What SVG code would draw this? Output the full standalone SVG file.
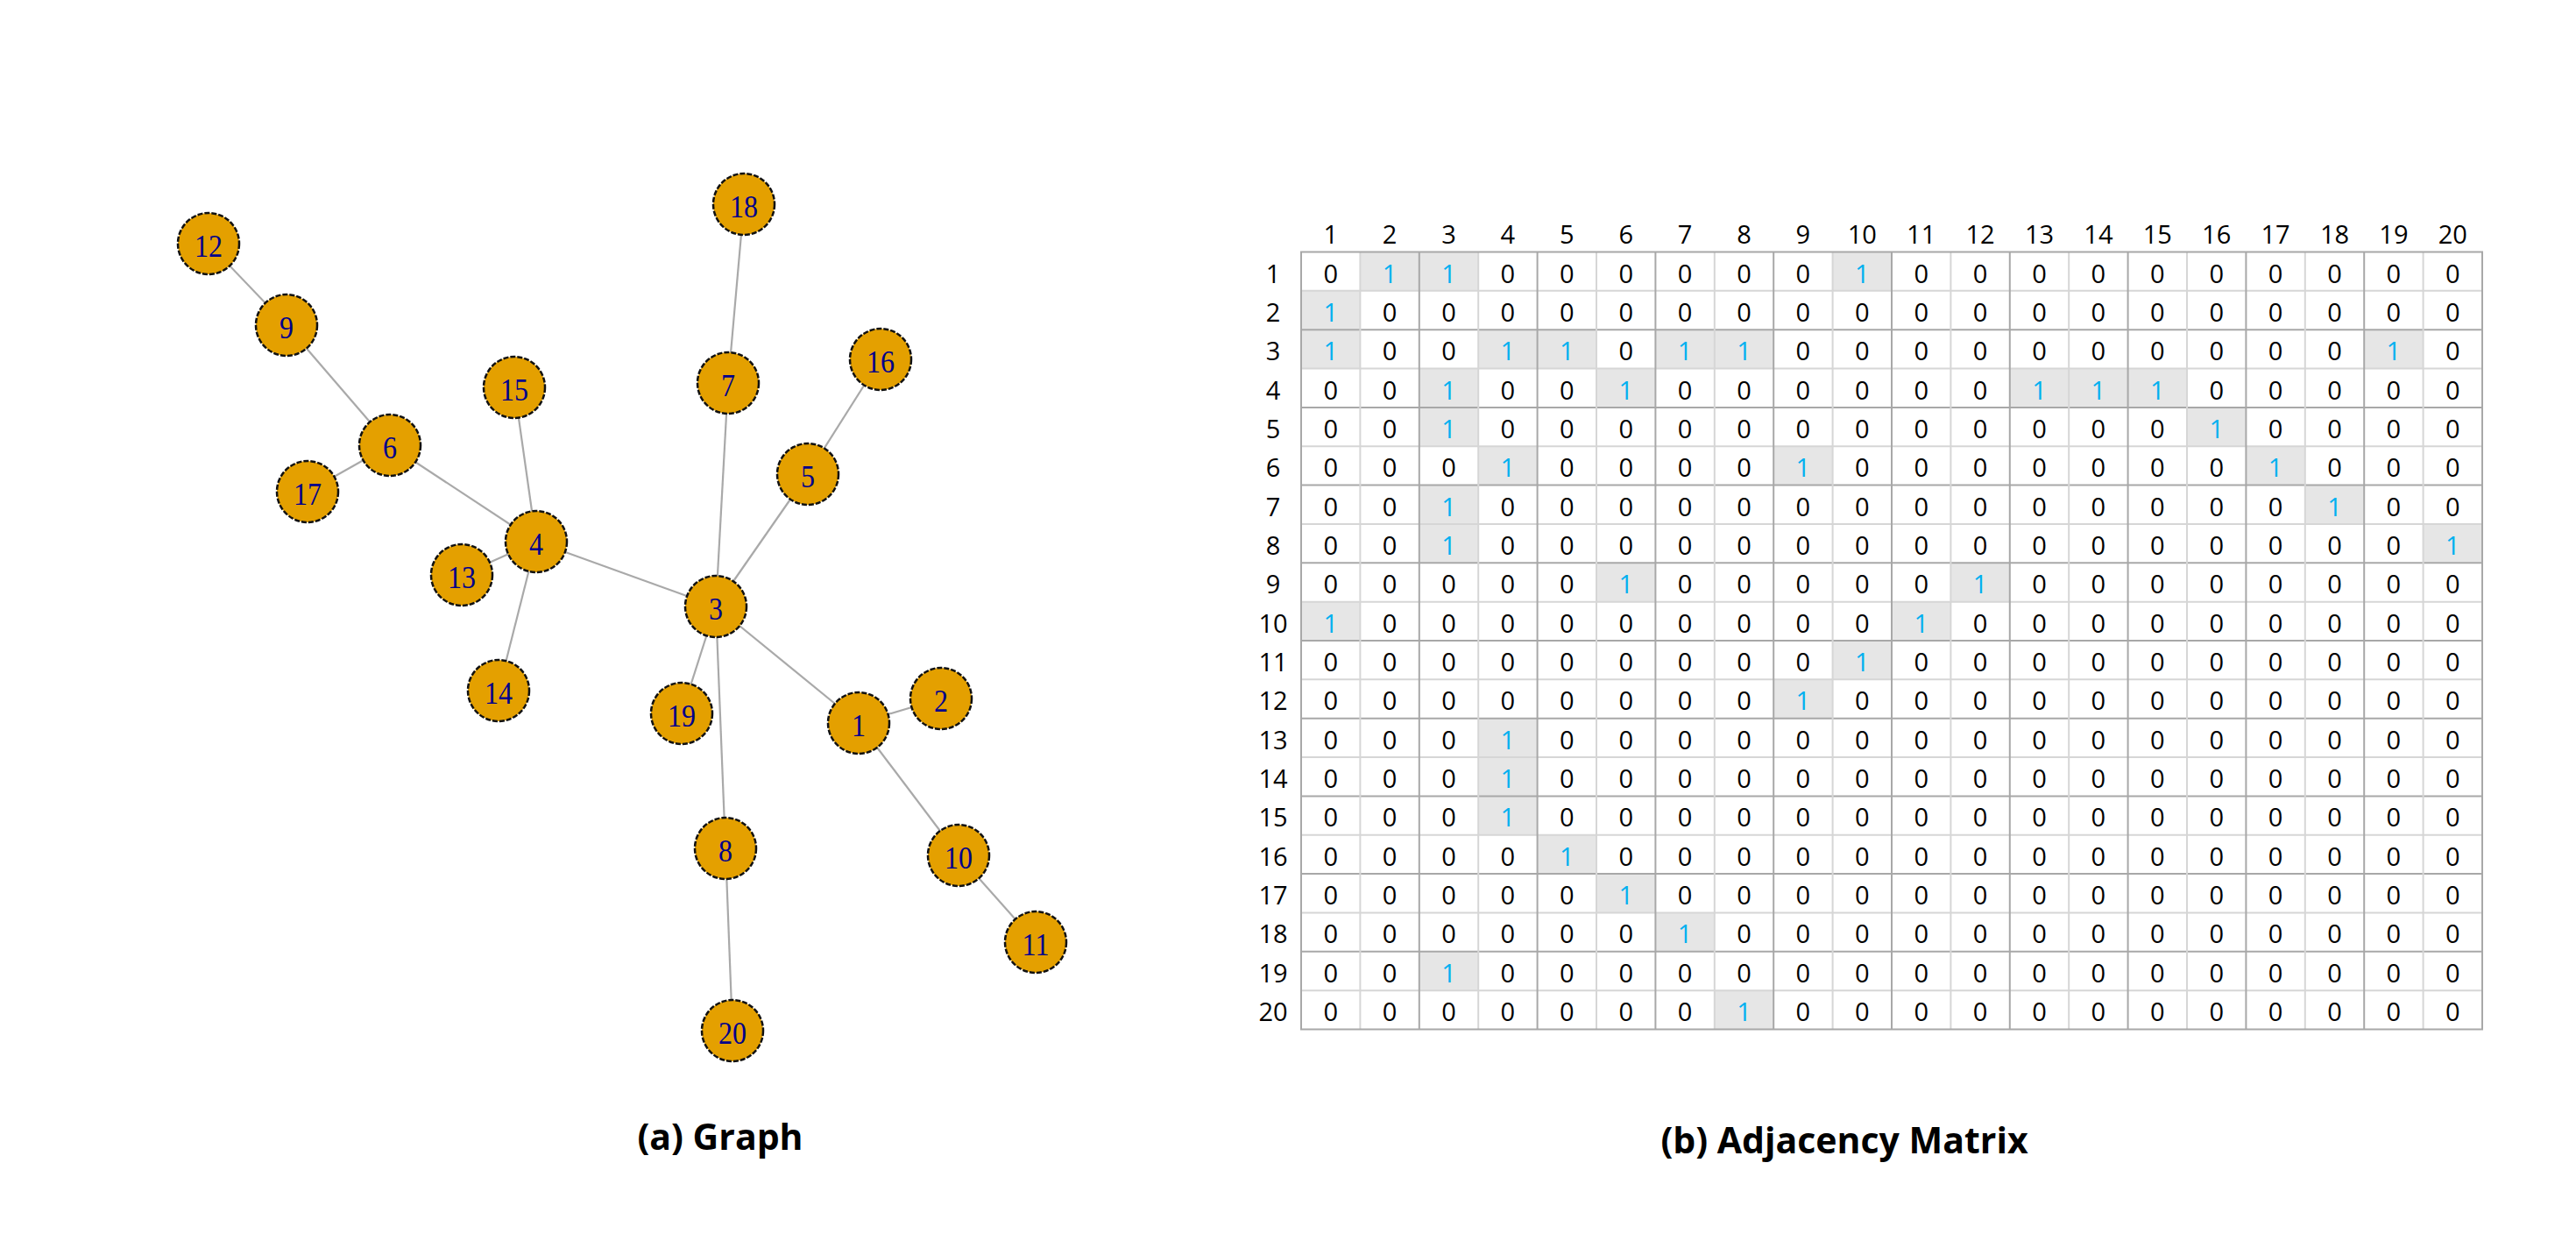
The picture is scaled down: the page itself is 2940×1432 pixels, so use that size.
<svg xmlns="http://www.w3.org/2000/svg" width="2940" height="1432" viewBox="0 0 2940 1432">
<style>
.edge{stroke:#a9a9a9;stroke-width:2.2;fill:none}
.nd circle{fill:#e4a000;stroke:#111;stroke-width:2.5;stroke-dasharray:6 2}
.nd text{font-family:"Liberation Serif","Times New Roman",serif;font-size:32px;fill:#00008b;text-anchor:middle}
.m text{font-family:"Open Sans","Noto Sans",sans-serif;font-size:29px;fill:#000;text-anchor:middle}
.m text.o{fill:#00b0f0}
.sh rect{fill:#e6e6e6}
.gl{stroke:#d6d6d6;stroke-width:2}
.gd{stroke:#a8a8a8;stroke-width:2}
.frame{fill:none;stroke:#a8a8a8;stroke-width:2}
.cap{font-family:"Open Sans","Noto Sans",sans-serif;font-weight:bold;font-size:41px;fill:#000;text-anchor:middle}
</style>
<rect width="2940" height="1432" fill="#fff"/>
<g id="connectors">
<line class="edge" x1="980" y1="825" x2="1074" y2="797"/>
<line class="edge" x1="980" y1="825" x2="817" y2="692"/>
<line class="edge" x1="980" y1="825" x2="1094" y2="976"/>
<line class="edge" x1="817" y1="692" x2="612" y2="618"/>
<line class="edge" x1="817" y1="692" x2="922" y2="541"/>
<line class="edge" x1="817" y1="692" x2="831" y2="437"/>
<line class="edge" x1="817" y1="692" x2="828" y2="968"/>
<line class="edge" x1="817" y1="692" x2="778" y2="814"/>
<line class="edge" x1="612" y1="618" x2="445" y2="508"/>
<line class="edge" x1="612" y1="618" x2="527" y2="656"/>
<line class="edge" x1="612" y1="618" x2="569" y2="788"/>
<line class="edge" x1="612" y1="618" x2="587" y2="442"/>
<line class="edge" x1="922" y1="541" x2="1005" y2="410"/>
<line class="edge" x1="445" y1="508" x2="327" y2="371"/>
<line class="edge" x1="445" y1="508" x2="351" y2="561"/>
<line class="edge" x1="831" y1="437" x2="849" y2="233"/>
<line class="edge" x1="828" y1="968" x2="836" y2="1176"/>
<line class="edge" x1="327" y1="371" x2="238" y2="278"/>
<line class="edge" x1="1094" y1="976" x2="1182" y2="1075"/>
</g>
<g id="node1" class="nd" transform="translate(980,825)"><circle r="35"/><text y="13.4" transform="scale(1,1.12)">1</text></g>
<g id="node2" class="nd" transform="translate(1074,797)"><circle r="35"/><text y="13.4" transform="scale(1,1.12)">2</text></g>
<g id="node3" class="nd" transform="translate(817,692)"><circle r="35"/><text y="13.4" transform="scale(1,1.12)">3</text></g>
<g id="node4" class="nd" transform="translate(612,618)"><circle r="35"/><text y="13.4" transform="scale(1,1.12)">4</text></g>
<g id="node5" class="nd" transform="translate(922,541)"><circle r="35"/><text y="13.4" transform="scale(1,1.12)">5</text></g>
<g id="node6" class="nd" transform="translate(445,508)"><circle r="35"/><text y="13.4" transform="scale(1,1.12)">6</text></g>
<g id="node7" class="nd" transform="translate(831,437)"><circle r="35"/><text y="13.4" transform="scale(1,1.12)">7</text></g>
<g id="node8" class="nd" transform="translate(828,968)"><circle r="35"/><text y="13.4" transform="scale(1,1.12)">8</text></g>
<g id="node9" class="nd" transform="translate(327,371)"><circle r="35"/><text y="13.4" transform="scale(1,1.12)">9</text></g>
<g id="node10" class="nd" transform="translate(1094,976)"><circle r="35"/><text y="13.4" transform="scale(1,1.12)">10</text></g>
<g id="node11" class="nd" transform="translate(1182,1075)"><circle r="35"/><text y="13.4" transform="scale(1,1.12)">11</text></g>
<g id="node12" class="nd" transform="translate(238,278)"><circle r="35"/><text y="13.4" transform="scale(1,1.12)">12</text></g>
<g id="node13" class="nd" transform="translate(527,656)"><circle r="35"/><text y="13.4" transform="scale(1,1.12)">13</text></g>
<g id="node14" class="nd" transform="translate(569,788)"><circle r="35"/><text y="13.4" transform="scale(1,1.12)">14</text></g>
<g id="node15" class="nd" transform="translate(587,442)"><circle r="35"/><text y="13.4" transform="scale(1,1.12)">15</text></g>
<g id="node16" class="nd" transform="translate(1005,410)"><circle r="35"/><text y="13.4" transform="scale(1,1.12)">16</text></g>
<g id="node17" class="nd" transform="translate(351,561)"><circle r="35"/><text y="13.4" transform="scale(1,1.12)">17</text></g>
<g id="node18" class="nd" transform="translate(849,233)"><circle r="35"/><text y="13.4" transform="scale(1,1.12)">18</text></g>
<g id="node19" class="nd" transform="translate(778,814)"><circle r="35"/><text y="13.4" transform="scale(1,1.12)">19</text></g>
<g id="node20" class="nd" transform="translate(836,1176)"><circle r="35"/><text y="13.4" transform="scale(1,1.12)">20</text></g>
<text class="cap" x="822" y="1312">(a) Graph</text>

<g id="matrix" class="m">
<g id="header" transform="translate(0,278)">
<text x="1518.7">1</text><text x="1586.1">2</text><text x="1653.5">3</text><text x="1720.9">4</text><text x="1788.3">5</text><text x="1855.7">6</text><text x="1923.1">7</text><text x="1990.5">8</text><text x="2057.9">9</text><text x="2125.3">10</text><text x="2192.7">11</text><text x="2260.1">12</text><text x="2327.5">13</text><text x="2394.9">14</text><text x="2462.3">15</text><text x="2529.7">16</text><text x="2597.1">17</text><text x="2664.5">18</text><text x="2731.9">19</text><text x="2799.3">20</text>
</g>
<g id="shading" class="sh">
<rect x="1552.4" y="287.5" width="67.4" height="44.35"/><rect x="1619.8" y="287.5" width="67.4" height="44.35"/><rect x="2091.6" y="287.5" width="67.4" height="44.35"/>
<rect x="1485" y="331.85" width="67.4" height="44.35"/>
<rect x="1485" y="376.2" width="67.4" height="44.35"/><rect x="1687.2" y="376.2" width="67.4" height="44.35"/><rect x="1754.6" y="376.2" width="67.4" height="44.35"/><rect x="1889.4" y="376.2" width="67.4" height="44.35"/><rect x="1956.8" y="376.2" width="67.4" height="44.35"/><rect x="2698.2" y="376.2" width="67.4" height="44.35"/>
<rect x="1619.8" y="420.55" width="67.4" height="44.35"/><rect x="1822" y="420.55" width="67.4" height="44.35"/><rect x="2293.8" y="420.55" width="67.4" height="44.35"/><rect x="2361.2" y="420.55" width="67.4" height="44.35"/><rect x="2428.6" y="420.55" width="67.4" height="44.35"/>
<rect x="1619.8" y="464.9" width="67.4" height="44.35"/><rect x="2496" y="464.9" width="67.4" height="44.35"/>
<rect x="1687.2" y="509.25" width="67.4" height="44.35"/><rect x="2024.2" y="509.25" width="67.4" height="44.35"/><rect x="2563.4" y="509.25" width="67.4" height="44.35"/>
<rect x="1619.8" y="553.6" width="67.4" height="44.35"/><rect x="2630.8" y="553.6" width="67.4" height="44.35"/>
<rect x="1619.8" y="597.95" width="67.4" height="44.35"/><rect x="2765.6" y="597.95" width="67.4" height="44.35"/>
<rect x="1822" y="642.3" width="67.4" height="44.35"/><rect x="2226.4" y="642.3" width="67.4" height="44.35"/>
<rect x="1485" y="686.65" width="67.4" height="44.35"/><rect x="2159" y="686.65" width="67.4" height="44.35"/>
<rect x="2091.6" y="731" width="67.4" height="44.35"/>
<rect x="2024.2" y="775.35" width="67.4" height="44.35"/>
<rect x="1687.2" y="819.7" width="67.4" height="44.35"/>
<rect x="1687.2" y="864.05" width="67.4" height="44.35"/>
<rect x="1687.2" y="908.4" width="67.4" height="44.35"/>
<rect x="1754.6" y="952.75" width="67.4" height="44.35"/>
<rect x="1822" y="997.1" width="67.4" height="44.35"/>
<rect x="1889.4" y="1041.45" width="67.4" height="44.35"/>
<rect x="1619.8" y="1085.8" width="67.4" height="44.35"/>
<rect x="1956.8" y="1130.15" width="67.4" height="44.35"/>
</g>
<g id="grid">
<line class="gl" x1="1485" y1="331.85" x2="2833" y2="331.85"/><line class="gd" x1="1485" y1="376.2" x2="2833" y2="376.2"/>
<line class="gl" x1="1485" y1="420.55" x2="2833" y2="420.55"/><line class="gd" x1="1485" y1="464.9" x2="2833" y2="464.9"/>
<line class="gl" x1="1485" y1="509.25" x2="2833" y2="509.25"/><line class="gd" x1="1485" y1="553.6" x2="2833" y2="553.6"/>
<line class="gl" x1="1485" y1="597.95" x2="2833" y2="597.95"/><line class="gd" x1="1485" y1="642.3" x2="2833" y2="642.3"/>
<line class="gl" x1="1485" y1="686.65" x2="2833" y2="686.65"/><line class="gd" x1="1485" y1="731" x2="2833" y2="731"/>
<line class="gl" x1="1485" y1="775.35" x2="2833" y2="775.35"/><line class="gd" x1="1485" y1="819.7" x2="2833" y2="819.7"/>
<line class="gl" x1="1485" y1="864.05" x2="2833" y2="864.05"/><line class="gd" x1="1485" y1="908.4" x2="2833" y2="908.4"/>
<line class="gl" x1="1485" y1="952.75" x2="2833" y2="952.75"/><line class="gd" x1="1485" y1="997.1" x2="2833" y2="997.1"/>
<line class="gl" x1="1485" y1="1041.45" x2="2833" y2="1041.45"/><line class="gd" x1="1485" y1="1085.8" x2="2833" y2="1085.8"/>
<line class="gl" x1="1485" y1="1130.15" x2="2833" y2="1130.15"/>
<line class="gl" x1="1552.4" y1="287.5" x2="1552.4" y2="1174.5"/><line class="gd" x1="1619.8" y1="287.5" x2="1619.8" y2="1174.5"/>
<line class="gl" x1="1687.2" y1="287.5" x2="1687.2" y2="1174.5"/><line class="gd" x1="1754.6" y1="287.5" x2="1754.6" y2="1174.5"/>
<line class="gl" x1="1822" y1="287.5" x2="1822" y2="1174.5"/><line class="gd" x1="1889.4" y1="287.5" x2="1889.4" y2="1174.5"/>
<line class="gl" x1="1956.8" y1="287.5" x2="1956.8" y2="1174.5"/><line class="gd" x1="2024.2" y1="287.5" x2="2024.2" y2="1174.5"/>
<line class="gl" x1="2091.6" y1="287.5" x2="2091.6" y2="1174.5"/><line class="gd" x1="2159" y1="287.5" x2="2159" y2="1174.5"/>
<line class="gl" x1="2226.4" y1="287.5" x2="2226.4" y2="1174.5"/><line class="gd" x1="2293.8" y1="287.5" x2="2293.8" y2="1174.5"/>
<line class="gl" x1="2361.2" y1="287.5" x2="2361.2" y2="1174.5"/><line class="gd" x1="2428.6" y1="287.5" x2="2428.6" y2="1174.5"/>
<line class="gl" x1="2496" y1="287.5" x2="2496" y2="1174.5"/><line class="gd" x1="2563.4" y1="287.5" x2="2563.4" y2="1174.5"/>
<line class="gl" x1="2630.8" y1="287.5" x2="2630.8" y2="1174.5"/><line class="gd" x1="2698.2" y1="287.5" x2="2698.2" y2="1174.5"/>
<line class="gl" x1="2765.6" y1="287.5" x2="2765.6" y2="1174.5"/>
<rect class="frame" x="1485" y="287.5" width="1348" height="887"/>
</g>
<g transform="translate(0,322.5)"><text x="1453">1</text><text x="1518.7">0</text><text class="o" x="1586.1">1</text><text class="o" x="1653.5">1</text><text x="1720.9">0</text><text x="1788.3">0</text><text x="1855.7">0</text><text x="1923.1">0</text><text x="1990.5">0</text><text x="2057.9">0</text><text class="o" x="2125.3">1</text><text x="2192.7">0</text><text x="2260.1">0</text><text x="2327.5">0</text><text x="2394.9">0</text><text x="2462.3">0</text><text x="2529.7">0</text><text x="2597.1">0</text><text x="2664.5">0</text><text x="2731.9">0</text><text x="2799.3">0</text></g>
<g transform="translate(0,366.85)"><text x="1453">2</text><text class="o" x="1518.7">1</text><text x="1586.1">0</text><text x="1653.5">0</text><text x="1720.9">0</text><text x="1788.3">0</text><text x="1855.7">0</text><text x="1923.1">0</text><text x="1990.5">0</text><text x="2057.9">0</text><text x="2125.3">0</text><text x="2192.7">0</text><text x="2260.1">0</text><text x="2327.5">0</text><text x="2394.9">0</text><text x="2462.3">0</text><text x="2529.7">0</text><text x="2597.1">0</text><text x="2664.5">0</text><text x="2731.9">0</text><text x="2799.3">0</text></g>
<g transform="translate(0,411.2)"><text x="1453">3</text><text class="o" x="1518.7">1</text><text x="1586.1">0</text><text x="1653.5">0</text><text class="o" x="1720.9">1</text><text class="o" x="1788.3">1</text><text x="1855.7">0</text><text class="o" x="1923.1">1</text><text class="o" x="1990.5">1</text><text x="2057.9">0</text><text x="2125.3">0</text><text x="2192.7">0</text><text x="2260.1">0</text><text x="2327.5">0</text><text x="2394.9">0</text><text x="2462.3">0</text><text x="2529.7">0</text><text x="2597.1">0</text><text x="2664.5">0</text><text class="o" x="2731.9">1</text><text x="2799.3">0</text></g>
<g transform="translate(0,455.55)"><text x="1453">4</text><text x="1518.7">0</text><text x="1586.1">0</text><text class="o" x="1653.5">1</text><text x="1720.9">0</text><text x="1788.3">0</text><text class="o" x="1855.7">1</text><text x="1923.1">0</text><text x="1990.5">0</text><text x="2057.9">0</text><text x="2125.3">0</text><text x="2192.7">0</text><text x="2260.1">0</text><text class="o" x="2327.5">1</text><text class="o" x="2394.9">1</text><text class="o" x="2462.3">1</text><text x="2529.7">0</text><text x="2597.1">0</text><text x="2664.5">0</text><text x="2731.9">0</text><text x="2799.3">0</text></g>
<g transform="translate(0,499.9)"><text x="1453">5</text><text x="1518.7">0</text><text x="1586.1">0</text><text class="o" x="1653.5">1</text><text x="1720.9">0</text><text x="1788.3">0</text><text x="1855.7">0</text><text x="1923.1">0</text><text x="1990.5">0</text><text x="2057.9">0</text><text x="2125.3">0</text><text x="2192.7">0</text><text x="2260.1">0</text><text x="2327.5">0</text><text x="2394.9">0</text><text x="2462.3">0</text><text class="o" x="2529.7">1</text><text x="2597.1">0</text><text x="2664.5">0</text><text x="2731.9">0</text><text x="2799.3">0</text></g>
<g transform="translate(0,544.25)"><text x="1453">6</text><text x="1518.7">0</text><text x="1586.1">0</text><text x="1653.5">0</text><text class="o" x="1720.9">1</text><text x="1788.3">0</text><text x="1855.7">0</text><text x="1923.1">0</text><text x="1990.5">0</text><text class="o" x="2057.9">1</text><text x="2125.3">0</text><text x="2192.7">0</text><text x="2260.1">0</text><text x="2327.5">0</text><text x="2394.9">0</text><text x="2462.3">0</text><text x="2529.7">0</text><text class="o" x="2597.1">1</text><text x="2664.5">0</text><text x="2731.9">0</text><text x="2799.3">0</text></g>
<g transform="translate(0,588.6)"><text x="1453">7</text><text x="1518.7">0</text><text x="1586.1">0</text><text class="o" x="1653.5">1</text><text x="1720.9">0</text><text x="1788.3">0</text><text x="1855.7">0</text><text x="1923.1">0</text><text x="1990.5">0</text><text x="2057.9">0</text><text x="2125.3">0</text><text x="2192.7">0</text><text x="2260.1">0</text><text x="2327.5">0</text><text x="2394.9">0</text><text x="2462.3">0</text><text x="2529.7">0</text><text x="2597.1">0</text><text class="o" x="2664.5">1</text><text x="2731.9">0</text><text x="2799.3">0</text></g>
<g transform="translate(0,632.95)"><text x="1453">8</text><text x="1518.7">0</text><text x="1586.1">0</text><text class="o" x="1653.5">1</text><text x="1720.9">0</text><text x="1788.3">0</text><text x="1855.7">0</text><text x="1923.1">0</text><text x="1990.5">0</text><text x="2057.9">0</text><text x="2125.3">0</text><text x="2192.7">0</text><text x="2260.1">0</text><text x="2327.5">0</text><text x="2394.9">0</text><text x="2462.3">0</text><text x="2529.7">0</text><text x="2597.1">0</text><text x="2664.5">0</text><text x="2731.9">0</text><text class="o" x="2799.3">1</text></g>
<g transform="translate(0,677.3)"><text x="1453">9</text><text x="1518.7">0</text><text x="1586.1">0</text><text x="1653.5">0</text><text x="1720.9">0</text><text x="1788.3">0</text><text class="o" x="1855.7">1</text><text x="1923.1">0</text><text x="1990.5">0</text><text x="2057.9">0</text><text x="2125.3">0</text><text x="2192.7">0</text><text class="o" x="2260.1">1</text><text x="2327.5">0</text><text x="2394.9">0</text><text x="2462.3">0</text><text x="2529.7">0</text><text x="2597.1">0</text><text x="2664.5">0</text><text x="2731.9">0</text><text x="2799.3">0</text></g>
<g transform="translate(0,721.65)"><text x="1453">10</text><text class="o" x="1518.7">1</text><text x="1586.1">0</text><text x="1653.5">0</text><text x="1720.9">0</text><text x="1788.3">0</text><text x="1855.7">0</text><text x="1923.1">0</text><text x="1990.5">0</text><text x="2057.9">0</text><text x="2125.3">0</text><text class="o" x="2192.7">1</text><text x="2260.1">0</text><text x="2327.5">0</text><text x="2394.9">0</text><text x="2462.3">0</text><text x="2529.7">0</text><text x="2597.1">0</text><text x="2664.5">0</text><text x="2731.9">0</text><text x="2799.3">0</text></g>
<g transform="translate(0,766)"><text x="1453">11</text><text x="1518.7">0</text><text x="1586.1">0</text><text x="1653.5">0</text><text x="1720.9">0</text><text x="1788.3">0</text><text x="1855.7">0</text><text x="1923.1">0</text><text x="1990.5">0</text><text x="2057.9">0</text><text class="o" x="2125.3">1</text><text x="2192.7">0</text><text x="2260.1">0</text><text x="2327.5">0</text><text x="2394.9">0</text><text x="2462.3">0</text><text x="2529.7">0</text><text x="2597.1">0</text><text x="2664.5">0</text><text x="2731.9">0</text><text x="2799.3">0</text></g>
<g transform="translate(0,810.35)"><text x="1453">12</text><text x="1518.7">0</text><text x="1586.1">0</text><text x="1653.5">0</text><text x="1720.9">0</text><text x="1788.3">0</text><text x="1855.7">0</text><text x="1923.1">0</text><text x="1990.5">0</text><text class="o" x="2057.9">1</text><text x="2125.3">0</text><text x="2192.7">0</text><text x="2260.1">0</text><text x="2327.5">0</text><text x="2394.9">0</text><text x="2462.3">0</text><text x="2529.7">0</text><text x="2597.1">0</text><text x="2664.5">0</text><text x="2731.9">0</text><text x="2799.3">0</text></g>
<g transform="translate(0,854.7)"><text x="1453">13</text><text x="1518.7">0</text><text x="1586.1">0</text><text x="1653.5">0</text><text class="o" x="1720.9">1</text><text x="1788.3">0</text><text x="1855.7">0</text><text x="1923.1">0</text><text x="1990.5">0</text><text x="2057.9">0</text><text x="2125.3">0</text><text x="2192.7">0</text><text x="2260.1">0</text><text x="2327.5">0</text><text x="2394.9">0</text><text x="2462.3">0</text><text x="2529.7">0</text><text x="2597.1">0</text><text x="2664.5">0</text><text x="2731.9">0</text><text x="2799.3">0</text></g>
<g transform="translate(0,899.05)"><text x="1453">14</text><text x="1518.7">0</text><text x="1586.1">0</text><text x="1653.5">0</text><text class="o" x="1720.9">1</text><text x="1788.3">0</text><text x="1855.7">0</text><text x="1923.1">0</text><text x="1990.5">0</text><text x="2057.9">0</text><text x="2125.3">0</text><text x="2192.7">0</text><text x="2260.1">0</text><text x="2327.5">0</text><text x="2394.9">0</text><text x="2462.3">0</text><text x="2529.7">0</text><text x="2597.1">0</text><text x="2664.5">0</text><text x="2731.9">0</text><text x="2799.3">0</text></g>
<g transform="translate(0,943.4)"><text x="1453">15</text><text x="1518.7">0</text><text x="1586.1">0</text><text x="1653.5">0</text><text class="o" x="1720.9">1</text><text x="1788.3">0</text><text x="1855.7">0</text><text x="1923.1">0</text><text x="1990.5">0</text><text x="2057.9">0</text><text x="2125.3">0</text><text x="2192.7">0</text><text x="2260.1">0</text><text x="2327.5">0</text><text x="2394.9">0</text><text x="2462.3">0</text><text x="2529.7">0</text><text x="2597.1">0</text><text x="2664.5">0</text><text x="2731.9">0</text><text x="2799.3">0</text></g>
<g transform="translate(0,987.75)"><text x="1453">16</text><text x="1518.7">0</text><text x="1586.1">0</text><text x="1653.5">0</text><text x="1720.9">0</text><text class="o" x="1788.3">1</text><text x="1855.7">0</text><text x="1923.1">0</text><text x="1990.5">0</text><text x="2057.9">0</text><text x="2125.3">0</text><text x="2192.7">0</text><text x="2260.1">0</text><text x="2327.5">0</text><text x="2394.9">0</text><text x="2462.3">0</text><text x="2529.7">0</text><text x="2597.1">0</text><text x="2664.5">0</text><text x="2731.9">0</text><text x="2799.3">0</text></g>
<g transform="translate(0,1032.1)"><text x="1453">17</text><text x="1518.7">0</text><text x="1586.1">0</text><text x="1653.5">0</text><text x="1720.9">0</text><text x="1788.3">0</text><text class="o" x="1855.7">1</text><text x="1923.1">0</text><text x="1990.5">0</text><text x="2057.9">0</text><text x="2125.3">0</text><text x="2192.7">0</text><text x="2260.1">0</text><text x="2327.5">0</text><text x="2394.9">0</text><text x="2462.3">0</text><text x="2529.7">0</text><text x="2597.1">0</text><text x="2664.5">0</text><text x="2731.9">0</text><text x="2799.3">0</text></g>
<g transform="translate(0,1076.45)"><text x="1453">18</text><text x="1518.7">0</text><text x="1586.1">0</text><text x="1653.5">0</text><text x="1720.9">0</text><text x="1788.3">0</text><text x="1855.7">0</text><text class="o" x="1923.1">1</text><text x="1990.5">0</text><text x="2057.9">0</text><text x="2125.3">0</text><text x="2192.7">0</text><text x="2260.1">0</text><text x="2327.5">0</text><text x="2394.9">0</text><text x="2462.3">0</text><text x="2529.7">0</text><text x="2597.1">0</text><text x="2664.5">0</text><text x="2731.9">0</text><text x="2799.3">0</text></g>
<g transform="translate(0,1120.8)"><text x="1453">19</text><text x="1518.7">0</text><text x="1586.1">0</text><text class="o" x="1653.5">1</text><text x="1720.9">0</text><text x="1788.3">0</text><text x="1855.7">0</text><text x="1923.1">0</text><text x="1990.5">0</text><text x="2057.9">0</text><text x="2125.3">0</text><text x="2192.7">0</text><text x="2260.1">0</text><text x="2327.5">0</text><text x="2394.9">0</text><text x="2462.3">0</text><text x="2529.7">0</text><text x="2597.1">0</text><text x="2664.5">0</text><text x="2731.9">0</text><text x="2799.3">0</text></g>
<g transform="translate(0,1165.15)"><text x="1453">20</text><text x="1518.7">0</text><text x="1586.1">0</text><text x="1653.5">0</text><text x="1720.9">0</text><text x="1788.3">0</text><text x="1855.7">0</text><text x="1923.1">0</text><text class="o" x="1990.5">1</text><text x="2057.9">0</text><text x="2125.3">0</text><text x="2192.7">0</text><text x="2260.1">0</text><text x="2327.5">0</text><text x="2394.9">0</text><text x="2462.3">0</text><text x="2529.7">0</text><text x="2597.1">0</text><text x="2664.5">0</text><text x="2731.9">0</text><text x="2799.3">0</text></g>
</g>
<text class="cap" x="2105" y="1316">(b) Adjacency Matrix</text>
</svg>
